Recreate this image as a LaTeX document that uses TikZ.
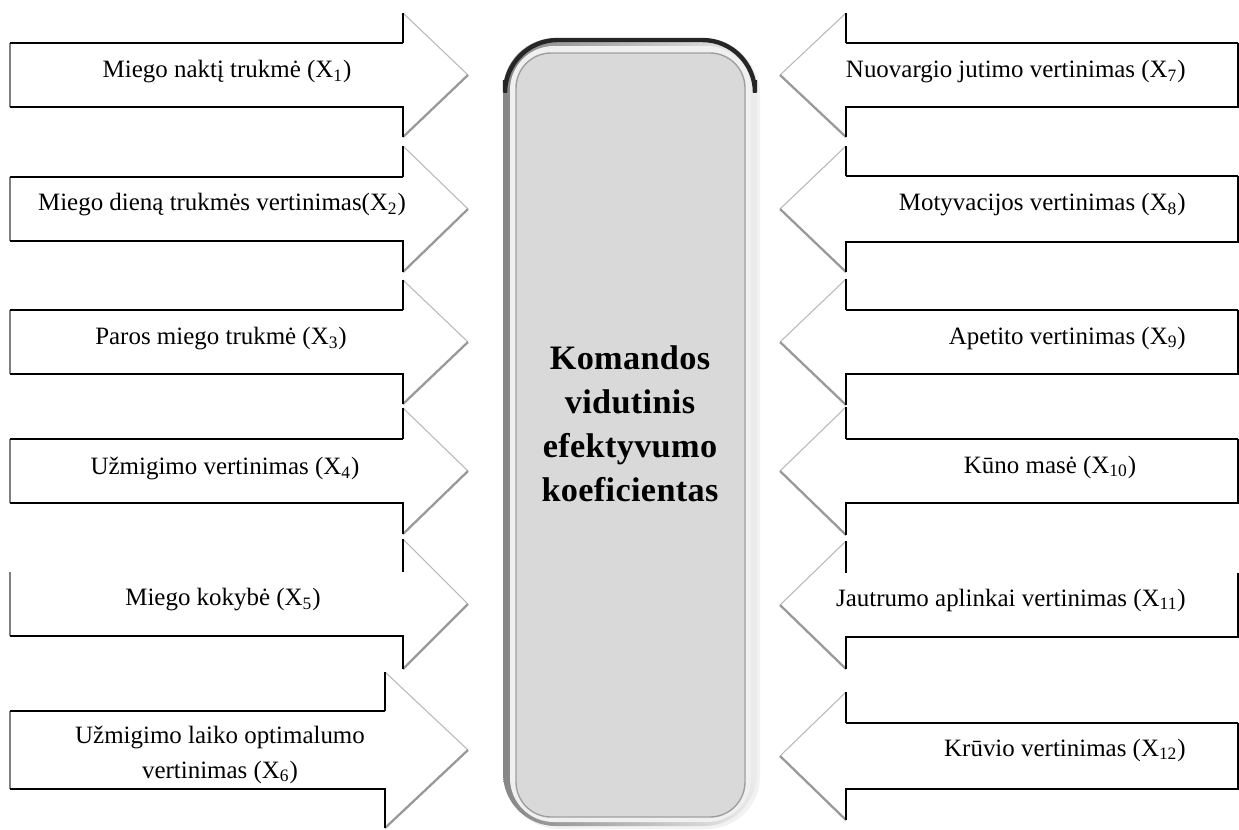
\documentclass[tikz,border=0pt]{standalone}
\usepackage{fontspec}
\setmainfont{Liberation Serif}
\begin{document}
\begin{tikzpicture}[x=0.02cm, y=-0.02cm,
    factor/.style={font=\fontsize{14.2}{19.5}\selectfont, inner sep=0pt},
    result/.style={font=\fontsize{19.5}{25}\selectfont\bfseries\addfontfeature{LetterSpace=1}, align=center, inner sep=0pt},
    edge/.style={draw=black, line width=1.1pt},
    rim/.style={draw=gray, line width=1.2pt},
    slope/.style={draw=gray!55, line width=0.6pt},
    shadowslope/.style={draw=gray!80, line width=1.3pt}]
    \useasboundingbox (0,0) rectangle (1239,829);

    % Left arrows: centre y / body half height / head half height / head base x / top line
    \foreach \cy/\bh/\hh/\xb/\tp in {75/32/62/403/1, 209/32/63/403/1, 342/32/62/403/1, 471/32/63/403/1, 604/32/65/403/0, 750/39/78/385/1}{
        \fill[white] (10,\cy-\bh) -- (\xb,\cy-\bh) -- (\xb,\cy-\hh) -- (468,\cy) -- (\xb,\cy+\hh) -- (\xb,\cy+\bh) -- (10,\cy+\bh) -- cycle;
        \draw[slope] (\xb,\cy-\hh) -- (468,\cy);
        \draw[shadowslope] (468,\cy) -- (\xb,\cy+\hh);
        \draw[rim] (10,\cy-\bh) -- (10,\cy+\bh);
        \ifnum\tp=1 \draw[edge] (10,\cy-\bh) -- (\xb,\cy-\bh); \fi
        \draw[edge] (\xb,\cy-\bh) -- (\xb,\cy-\hh);
        \draw[edge] (\xb,\cy+\hh) -- (\xb,\cy+\bh) -- (10,\cy+\bh);
    }

    % Right arrows
    \foreach \cy/\bh/\hh/\tp in {75/32/62/1, 209/33/63/1, 342/32/63/1, 471/32/64/1, 605/32/64/0, 756/33/64/1}{
        \fill[white] (1238,\cy-\bh) -- (846,\cy-\bh) -- (846,\cy-\hh) -- (780,\cy) -- (846,\cy+\hh) -- (846,\cy+\bh) -- (1238,\cy+\bh) -- cycle;
        \draw[slope] (846,\cy-\hh) -- (780,\cy);
        \draw[shadowslope] (780,\cy) -- (846,\cy+\hh);
        \ifnum\tp=1 \draw[edge] (1238,\cy-\bh) -- (846,\cy-\bh); \fi
        \draw[edge] (846,\cy-\bh) -- (846,\cy-\hh);
        \draw[edge] (846,\cy+\hh) -- (846,\cy+\bh) -- (1238,\cy+\bh) -- (1238,\cy-\bh);
    }

    % Central box
    \fill[gray!10, rounded corners=30] (506,41) rectangle (760,829);
    \shade[rounded corners=30, left color=gray!95, right color=gray!15] (503,38) rectangle (757,826);
    \draw[black!85, line width=2.5pt, rounded corners=30] (505,80) -- (505,40) -- (755,40) -- (755,80);
    \fill[gray!12, rounded corners=25] (510,46) rectangle (751,822);
    \draw[gray!75, fill=gray!30, line width=0.8pt, rounded corners=20] (516,53) rectangle (745,817);

    % Labels
    \node[factor] (x1) at (227,72) {Miego naktį trukmė (X\textsubscript{1})};
    \node[factor] (x2) at (222,205) {Miego dieną trukmės vertinimas(X\textsubscript{2})};
    \node[factor] (x3) at (221,339) {Paros miego trukmė (X\textsubscript{3})};
    \node[factor] (x4) at (225,469) {Užmigimo vertinimas (X\textsubscript{4})};
    \node[factor] (x5) at (223,600) {Miego kokybė (X\textsubscript{5})};
    \node[factor, align=center] (x6) at (220,755) {Užmigimo laiko optimalumo\\vertinimas (X\textsubscript{6})};
    \node[factor, anchor=east] (x7) at (1186,72) {Nuovargio jutimo vertinimas (X\textsubscript{7})};
    \node[factor, anchor=east] (x8) at (1186,205) {Motyvacijos vertinimas (X\textsubscript{8})};
    \node[factor, anchor=east] (x9) at (1186,338) {Apetito vertinimas (X\textsubscript{9})};
    \node[factor] (x10) at (1050,467) {Kūno masė (X\textsubscript{10})};
    \node[factor, anchor=east] (x11) at (1186,600) {Jautrumo aplinkai vertinimas (X\textsubscript{11})};
    \node[factor, anchor=east] (x12) at (1186,750) {Krūvio vertinimas (X\textsubscript{12})};

    \node[result] (koef) at (630,424) {Komandos\\vidutinis\\efektyvumo\\koeficientas};
\end{tikzpicture}
\end{document}
